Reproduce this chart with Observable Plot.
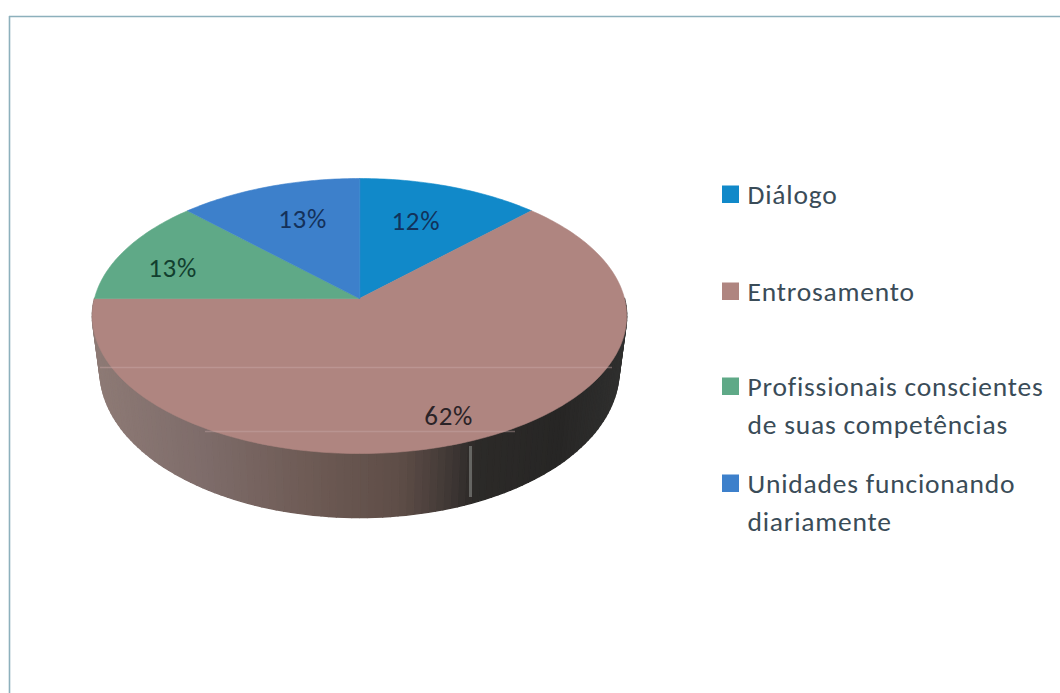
<!DOCTYPE html>
<html lang="pt">
<head>
<meta charset="utf-8">
<script src="https://cdn.jsdelivr.net/npm/d3@7"></script>
<script src="https://cdn.jsdelivr.net/npm/@observablehq/plot@0.6"></script>
<style>
html,body{margin:0;padding:0;background:#fff}
svg{display:block}
.legend-text text{letter-spacing:.8px}
.pie-label text{letter-spacing:.7px}
</style>
</head>
<body>
<div id="chart"></div>
<script>
// Data
const categories = ["Diálogo", "Entrosamento", "Profissionais conscientes de suas competências", "Unidades funcionando diariamente"];
const shares = [12.5, 62.5, 12.5, 12.5];
const sliceLabels = ["12%", "62%", "13%", "13%"];
const sliceColors = ["#1189c9", "#af8580", "#5fa987", "#3d80cb"];
const labelColors = ["#12325a", "#2b2327", "#123f2f", "#14315a"];
const legendLines = [["Diálogo"], ["Entrosamento"], ["Profissionais conscientes", "de suas competências"], ["Unidades funcionando", "diariamente"]];

// Chart geometry: a pie in perspective, computed from the shares
const W = 1060, H = 693;
const rad = Math.PI / 180;
const [cx, apexY, K, persp, tilt] = [359, 298, 265, 0.1273, -97.35];
const topPoint = (deg, r = 1) => {
  const u = r * Math.sin(deg * rad), v = r * Math.cos(deg * rad), d = 1 + persp * v;
  return {x: cx + K * u / d, y: (tilt * v + apexY) / d, v};
};
const lowPoint = (deg) => {
  const p = topPoint(deg);
  return {x: cx + (p.x - cx) * 0.972, y: p.y + 52 - 12 * p.v};
};
const total = d3.sum(shares);
let acc = 0;
const arcs = shares.map((s, i) => {
  const a0 = acc / total * 360; acc += s;
  return {i, a0, a1: acc / total * 360};
});

// Top faces
const faceRows = arcs.flatMap(({i, a0, a1}) => {
  const n = Math.ceil(a1 - a0);
  const pts = [{x: cx, y: apexY}, ...d3.range(n + 1).map(k => topPoint(a0 + (a1 - a0) * k / n))];
  return pts.map(p => ({...p, slice: categories[i], c: sliceColors[i]}));
});

// Shaded wall of the large slice
const wallShade = d3.scaleLinear()
  .domain([95, 200, 300, 400, 445, 475, 560, 622])
  .range(["#8d7a75", "#7e6c6a", "#6f5c56", "#5e4d47", "#433a37", "#2c2a28", "#272625", "#2f2f2e"]);
const wall = arcs[1];
const wallRows = d3.range(Math.max(wall.a0, 90), wall.a1, 1.5).flatMap(a => {
  const b = Math.min(a + 1.5, wall.a1);
  const q = [topPoint(a), topPoint(b), lowPoint(b), lowPoint(a)];
  const c = wallShade((q[0].x + q[1].x) / 2);
  return q.map(p => ({...p, z: a, c}));
});

// Labels inside the slices
const labelR = [0.654, 0.841, 0.761, 0.672];
const labelNudge = [-2, 1.4, -5, 2.3];
const labelRows = arcs.map(({i, a0, a1}) => ({
  ...topPoint((a0 + a1) / 2 + labelNudge[i], labelR[i]), text: sliceLabels[i], c: labelColors[i]
}));

// Legend
const legendY = [203, 300, 395, 492];
const legendGap = 38;
const legendRows = legendLines.flatMap((lines, i) =>
  lines.map((text, k) => ({text, y: legendY[i] + k * legendGap})));
const swatchRows = legendY.map((y, i) => ({y1: y - 17.5, y2: y, c: sliceColors[i]}));

const pieFont = "Carlito, Lato, 'Open Sans', sans-serif";

const chart = Plot.plot({
  width: W, height: H, margin: 0,
  style: {background: "#fff", fontFamily: pieFont},
  x: {domain: [0, W], axis: null},
  y: {domain: [H, 0], axis: null},
  color: {type: "identity"},
  marks: [
    Plot.ruleX([9], {y1: 16, y2: H, stroke: "#8db0bc", strokeWidth: 1.6}),
    Plot.ruleY([16], {x1: 9, x2: W, stroke: "#8db0bc", strokeWidth: 1.6}),
    Plot.line(wallRows, {x: "x", y: "y", z: "z", fill: "c", stroke: "c", strokeWidth: 1.4, curve: "linear-closed"}),
    Plot.ruleX([470], {y1: 446, y2: 497, stroke: "#7c7e7a", strokeWidth: 3, strokeOpacity: 0.7}),
    Plot.line(faceRows, {x: "x", y: "y", z: "slice", fill: "c", stroke: "c", strokeWidth: 0.6, curve: "linear-closed"}),
    Plot.ruleY([367], {x1: 100, x2: 612, stroke: "#c9a9a9", strokeWidth: 1.5, strokeOpacity: 0.45}),
    Plot.ruleY([431], {x1: 205, x2: 515, stroke: "#c9a9a9", strokeWidth: 1.5, strokeOpacity: 0.4}),
    Plot.text(labelRows, {x: "x", y: "y", text: "text", fontSize: 27, fill: "c", textAnchor: "middle", className: "pie-label"}),
    Plot.rect(swatchRows, {x1: () => 722, x2: () => 739, y1: "y1", y2: "y2", fill: "c"}),
    Plot.text(legendRows, {x: () => 747, y: "y", text: "text", textAnchor: "start", lineAnchor: "bottom", fontSize: 27.5, fill: "#3a4c58", className: "legend-text"})
  ]
});
document.getElementById("chart").append(chart);
</script>
</body>
</html>
